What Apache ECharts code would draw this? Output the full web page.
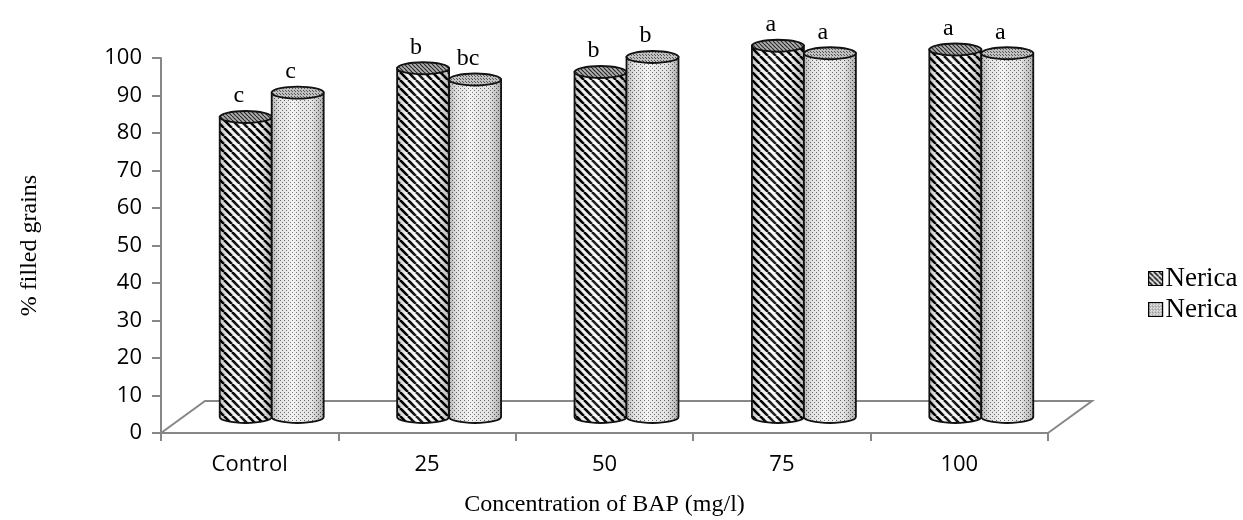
<!DOCTYPE html>
<html>
<head>
<meta charset="utf-8">
<script src="https://cdn.jsdelivr.net/npm/echarts@6/dist/echarts.min.js"></script>
<style>
  html, body { margin: 0; padding: 0; background: #fff; }
  #chart { width: 1243px; height: 520px; }
</style>
</head>
<body>
<div id="chart"></div>
<script>
// Percentage of filled grains per BAP concentration, two Nerica series
const categories = ['Control', '25', '50', '75', '100'];
const nericaStriped = [80, 93, 92, 99, 98];
const nericaDotted = [86.5, 90, 96, 97, 97];
const lettersStriped = ['c', 'b', 'b', 'a', 'a'];
const lettersDotted = ['c', 'bc', 'b', 'a', 'a'];
const seriesNames = ['Nerica', 'Nerica '];

const AXIS_GRAY = '#878787';
const DEPTH = { x: 44, y: -32 };   // floor depth in pixels (back edge offset)
const SERIF = '"Liberation Serif", "Times New Roman", serif';
const SANS = '"Open Sans", "Liberation Sans", sans-serif';

// ---- fill patterns built on small canvases ----
function makeTile(size, draw) {
  const c = document.createElement('canvas');
  c.width = c.height = size;
  const g = c.getContext('2d');
  draw(g, size);
  return c;
}
function diagonalTile(size, bg, fg, lw) {
  return makeTile(size, (g, s) => {
    g.fillStyle = bg; g.fillRect(0, 0, s, s);
    g.strokeStyle = fg; g.lineWidth = lw;
    for (let k = -1; k <= 1; k++) {
      g.beginPath(); g.moveTo(k * s, 0); g.lineTo(k * s + s, s); g.stroke();
    }
  });
}
function dotTile(size, bg, fg) {
  return makeTile(size, (g, s) => {
    g.fillStyle = bg; g.fillRect(0, 0, s, s);
    g.fillStyle = fg;
    g.fillRect(0, 0, 1, 1);
    g.fillRect(Math.floor(s / 2), Math.floor(s / 2), 1, 1);
  });
}
const pat = (img) => ({ image: img, repeat: 'repeat' });
const stripeBody = pat(diagonalTile(8, '#ffffff', '#000000', 2.6));
const stripeTop = pat(diagonalTile(4, '#b0b0b0', '#2a2a2a', 1.2));
const dotBody = pat(dotTile(4, '#f4f4f4', '#6a6a6a'));
const dotTop = pat(dotTile(3, '#c0c0c0', '#555555'));
const stripeIcon = pat(diagonalTile(5, '#ffffff', '#000000', 1.6));
const dotIcon = pat(dotTile(3, '#e4e4e4', '#555555'));

// horizontal shading that rounds the cylinder bodies
const shade = {
  type: 'linear', x: 0, y: 0, x2: 1, y2: 0,
  colorStops: [
    { offset: 0, color: 'rgba(0,0,0,0.28)' },
    { offset: 0.18, color: 'rgba(0,0,0,0.06)' },
    { offset: 0.4, color: 'rgba(255,255,255,0.15)' },
    { offset: 0.75, color: 'rgba(0,0,0,0.06)' },
    { offset: 1, color: 'rgba(0,0,0,0.3)' }
  ]
};

function cylinderRenderer(side, bodyFill, topFill, letters) {
  return function (params, api) {
    const cat = api.value(0);
    const val = api.value(1);
    const base = api.coord([cat, 0]);
    const top = api.coord([cat, val]);
    const band = api.size([1, 0])[0];
    const w = band * 0.293;
    const rx = w / 2, ry = 6;
    const pairCenter = base[0] + DEPTH.x / 2;
    const left = side === 0 ? pairCenter - w : pairCenter;
    const right = left + w;
    const yB = base[1] + DEPTH.y / 2;
    const yT = top[1] + DEPTH.y / 2;
    const d = `M${left},${yT} L${left},${yB} A${rx},${ry} 0 0 0 ${right},${yB} L${right},${yT} Z`;
    return {
      type: 'group',
      children: [
        { type: 'path', shape: { pathData: d }, style: { fill: bodyFill, stroke: null } },
        { type: 'path', shape: { pathData: d }, style: { fill: shade, stroke: '#111', lineWidth: 1.8 } },
        { type: 'ellipse', shape: { cx: left + rx, cy: yT, rx: rx, ry: ry },
          style: { fill: topFill, stroke: '#111', lineWidth: 1.8 } },
        { type: 'text', style: {
            text: letters[params.dataIndex], x: left + rx - 7, y: yT - ry - 3,
            align: 'center', verticalAlign: 'bottom',
            fontSize: 24, fontFamily: SERIF, fill: '#000' } }
      ]
    };
  };
}

// slanted floor behind the bars, built from the axis coordinates
function floorRenderer(params, api) {
  const band = api.size([1, 0])[0];
  const p0 = api.coord([0, 0]);
  const p1 = api.coord([categories.length - 1, 0]);
  const x0 = p0[0] - band / 2, x1 = p1[0] + band / 2, y0 = p0[1];
  return {
    type: 'polyline',
    shape: { points: [[x0, y0], [x0 + DEPTH.x, y0 + DEPTH.y], [x1 + DEPTH.x, y0 + DEPTH.y], [x1, y0]] },
    style: { fill: null, stroke: AXIS_GRAY, lineWidth: 2 }
  };
}

const chart = echarts.init(document.getElementById('chart'), null, { renderer: 'canvas' });
chart.setOption({
  animation: false,
  backgroundColor: '#fff',
  grid: { left: 161, right: 195, top: 58, bottom: 87, containLabel: false, outerBoundsMode: 'none' },
  legend: {
    orient: 'vertical',
    left: 1143, top: 260,
    itemWidth: 14, itemHeight: 14, itemGap: 4,
    icon: 'rect',
    textStyle: { fontSize: 27, lineHeight: 27, fontFamily: SERIF, color: '#000', padding: [0, 0, 0, -2] },
    data: [
      { name: seriesNames[0], itemStyle: { color: stripeIcon, borderColor: '#000', borderWidth: 1.2 } },
      { name: seriesNames[1], itemStyle: { color: dotIcon, borderColor: '#000', borderWidth: 1.2 } }
    ]
  },
  xAxis: {
    type: 'category',
    data: categories,
    boundaryGap: true,
    name: 'Concentration of BAP (mg/l)',
    nameLocation: 'middle',
    nameGap: 60,
    nameTextStyle: { fontSize: 24, fontFamily: SERIF, color: '#000' },
    axisLine: { show: true, lineStyle: { color: AXIS_GRAY, width: 2 } },
    axisTick: { show: true, length: 8, lineStyle: { color: AXIS_GRAY, width: 2 } },
    axisLabel: { margin: 21, fontSize: 22, fontFamily: SANS, color: '#000' },
    splitLine: { show: false }
  },
  yAxis: {
    type: 'value',
    min: 0, max: 100, interval: 10,
    name: '% filled grains',
    nameLocation: 'middle',
    nameGap: 119,
    nameRotate: 90,
    nameTextStyle: { fontSize: 24, fontFamily: SERIF, color: '#000' },
    axisLine: { show: true, lineStyle: { color: AXIS_GRAY, width: 2 } },
    axisTick: { show: true, length: 9, lineStyle: { color: AXIS_GRAY, width: 2 } },
    axisLabel: { margin: 19, fontSize: 22, fontFamily: SANS, color: '#000' },
    splitLine: { show: false }
  },
  series: [
    {
      type: 'custom', name: 'floor', silent: true,
      renderItem: floorRenderer,
      data: [[0, 0]],
      encode: { x: 0, y: 1 }
    },
    {
      type: 'custom', name: seriesNames[0],
      renderItem: cylinderRenderer(0, stripeBody, stripeTop, lettersStriped),
      itemStyle: { color: '#555' },
      data: nericaStriped.map((v, i) => [i, v]),
      encode: { x: 0, y: 1 }
    },
    {
      type: 'custom', name: seriesNames[1],
      renderItem: cylinderRenderer(1, dotBody, dotTop, lettersDotted),
      itemStyle: { color: '#bbb' },
      data: nericaDotted.map((v, i) => [i, v]),
      encode: { x: 0, y: 1 }
    }
  ]
});
</script>
</body>
</html>
